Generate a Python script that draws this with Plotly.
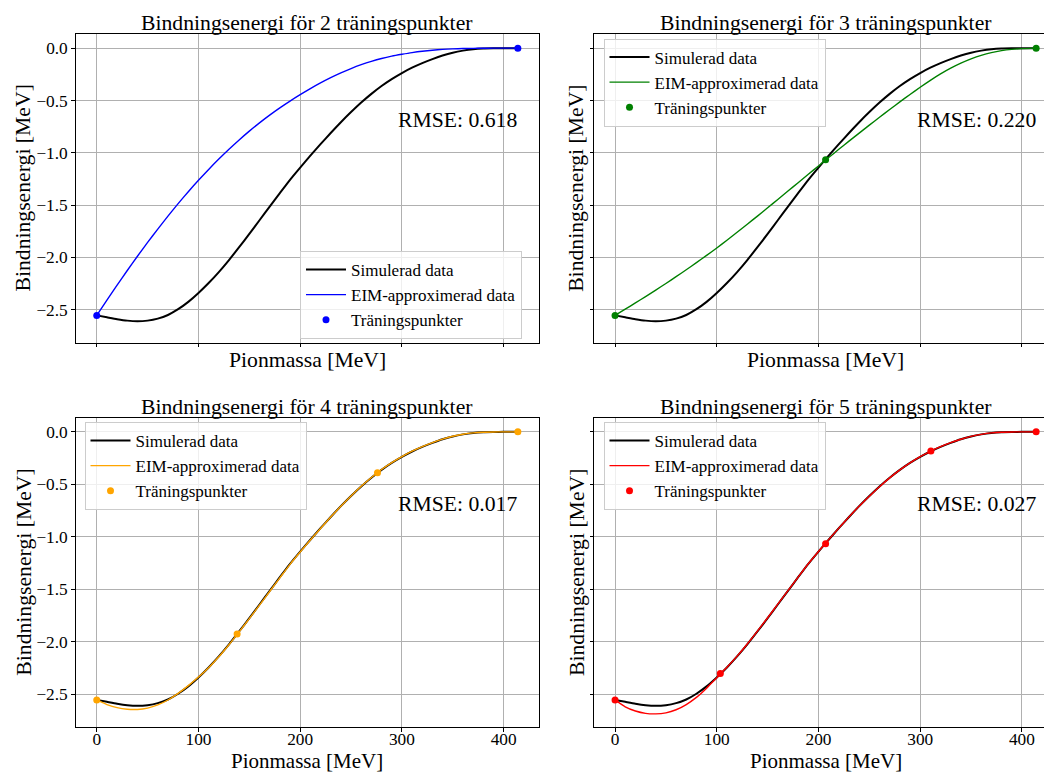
import plotly.graph_objects as go

# ---------------- data ----------------
x_grid = [0, 10, 20, 30, 40, 50, 60, 70, 80, 90, 100, 110, 120, 130, 140, 150,
          160, 170, 180, 190, 200, 210, 220, 230, 240, 250, 260, 270, 280, 290,
          300, 310, 320, 330, 340, 350, 360, 370, 380, 390, 400, 414]

sim_y = [-2.554, -2.572, -2.590, -2.604, -2.610, -2.604, -2.585, -2.550, -2.495, -2.425,
         -2.340, -2.245, -2.140, -2.025, -1.902, -1.775, -1.645, -1.515, -1.385, -1.258,
         -1.141, -1.028, -0.918, -0.811, -0.708, -0.611, -0.520, -0.437, -0.362, -0.296,
         -0.238, -0.187, -0.143, -0.105, -0.071, -0.044, -0.024, -0.010, -0.003, -0.001,
         0.0, 0.0]

eim2_y = [-2.554, -2.408, -2.265, -2.125, -1.989, -1.857, -1.729, -1.605, -1.486, -1.372,
          -1.263, -1.159, -1.060, -0.966, -0.877, -0.793, -0.714, -0.640, -0.571, -0.506,
          -0.445, -0.387, -0.333, -0.283, -0.237, -0.195, -0.158, -0.126, -0.099, -0.077,
          -0.059, -0.043, -0.030, -0.020, -0.012, -0.007, -0.004, -0.002, -0.001, 0.0,
          0.0, 0.0]

eim3_y = [-2.554, -2.495, -2.435, -2.374, -2.312, -2.249, -2.184, -2.118, -2.050, -1.981,
          -1.910, -1.836, -1.760, -1.683, -1.605, -1.526, -1.446, -1.366, -1.286, -1.206,
          -1.126, -1.046, -0.967, -0.889, -0.812, -0.736, -0.661, -0.587, -0.514, -0.443,
          -0.374, -0.308, -0.247, -0.192, -0.144, -0.103, -0.069, -0.043, -0.024, -0.012,
          -0.005, 0.0]

eim4_y = [-2.554, -2.598, -2.628, -2.643, -2.645, -2.632, -2.602, -2.555, -2.492, -2.418,
          -2.336, -2.247, -2.143, -2.028, -1.906, -1.780, -1.651, -1.521, -1.391, -1.262,
          -1.145, -1.031, -0.920, -0.812, -0.709, -0.611, -0.519, -0.435, -0.359, -0.293,
          -0.235, -0.184, -0.140, -0.102, -0.069, -0.042, -0.023, -0.010, -0.003, -0.001,
          0.0, 0.0]

eim5_y = [-2.554, -2.620, -2.660, -2.682, -2.687, -2.677, -2.648, -2.598, -2.530, -2.442,
          -2.342, -2.243, -2.137, -2.021, -1.898, -1.771, -1.642, -1.513, -1.384, -1.257,
          -1.140, -1.027, -0.917, -0.810, -0.708, -0.613, -0.522, -0.438, -0.362, -0.295,
          -0.236, -0.185, -0.141, -0.103, -0.070, -0.043, -0.024, -0.010, -0.003, -0.001,
          0.0, 0.0]

train_x = {2: [0, 414], 3: [0, 207, 414], 4: [0, 138, 276, 414],
           5: [0, 103.5, 207, 310.5, 414]}
train_y = {2: [-2.554, 0.0], 3: [-2.554, -1.067, 0.0], 4: [-2.554, -1.927, -0.390, 0.0],
           5: [-2.554, -2.302, -1.067, -0.183, 0.0]}

rmse = {2: "0.618", 3: "0.220", 4: "0.017", 5: "0.027"}
colors = {2: "#0000ff", 3: "#008000", 4: "#ffa500", 5: "#ff0000"}
eim_y = {2: eim2_y, 3: eim3_y, 4: eim4_y, 5: eim5_y}

x_ticks = [0, 100, 200, 300, 400]
y_ticks = [0.0, -0.5, -1.0, -1.5, -2.0, -2.5]

FONT = "Liberation Serif, Times New Roman, serif"
W, H = 1044, 774

# ---------------- layout geometry (pixels) ----------------
left_x = (75.7, 538.7)
right_x = (594.0, 1044.0)
top_y = (34.0, 342.7)
bot_y = (417.7, 727.3)
px_per_unit = 463.0 / 455.2
x_range_left = [-20.7, 434.5]
x_range_right = [-20.7, -20.7 + (right_x[1] - right_x[0]) / px_per_unit]
y_range = [-2.815, 0.135]

def xd(a):
    return [a[0] / W, a[1] / W]

def yd(a):
    return [1 - a[1] / H, 1 - a[0] / H]

panels = {2: (1, left_x, top_y, x_range_left, True, False, "legend", (300, 251)),
          3: (2, right_x, top_y, x_range_right, False, False, "legend2", (603.5, 38.5)),
          4: (3, left_x, bot_y, x_range_left, True, True, "legend3", (84.5, 422)),
          5: (4, right_x, bot_y, x_range_right, False, True, "legend4", (603.5, 422))}

fig = go.Figure()
layout = dict(width=W, height=H, margin=dict(l=0, r=0, t=0, b=0),
              paper_bgcolor="white", plot_bgcolor="white",
              font=dict(family=FONT, color="black"), showlegend=True)
annotations = []

for n, (idx, xpx, ypx, xr, is_left, is_bottom, leg, legpos) in panels.items():
    sfx = "" if idx == 1 else str(idx)
    xa, ya = "x" + sfx, "y" + sfx
    col = colors[n]
    fig.add_trace(go.Scatter(x=x_grid, y=sim_y, mode="lines", name="Simulerad data",
                             line=dict(color="black", width=2, shape="spline", smoothing=0.6),
                             xaxis=xa, yaxis=ya, legend=leg))
    fig.add_trace(go.Scatter(x=x_grid, y=eim_y[n], mode="lines", name="EIM-approximerad data",
                             line=dict(color=col, width=1.4, shape="spline", smoothing=0.6),
                             xaxis=xa, yaxis=ya, legend=leg))
    fig.add_trace(go.Scatter(x=train_x[n], y=train_y[n], mode="markers", name="Träningspunkter",
                             marker=dict(color=col, size=7),
                             xaxis=xa, yaxis=ya, legend=leg))

    layout["xaxis" + sfx] = dict(domain=xd(xpx), range=xr, anchor=ya,
                                 tickvals=x_ticks, showticklabels=is_bottom,
                                 ticks="outside", ticklen=3.5, tickwidth=1, tickcolor="black",
                                 ticklabelstandoff=-8,
                                 showline=True, linecolor="black", linewidth=1, mirror=True,
                                 showgrid=True, gridcolor="#b0b0b0", gridwidth=0.8,
                                 zeroline=False, tickfont=dict(family=FONT, size=17.3, color="black"))
    layout["yaxis" + sfx] = dict(domain=yd(ypx), range=y_range, anchor=xa,
                                 tickvals=y_ticks, tickformat=".1f", showticklabels=is_left,
                                 ticks="outside", ticklen=3.5, tickwidth=1, tickcolor="black",
                                 showline=True, linecolor="black", linewidth=1, mirror=is_left,
                                 showgrid=True, gridcolor="#b0b0b0", gridwidth=0.8,
                                 zeroline=False, tickfont=dict(family=FONT, size=17.3, color="black"))
    layout[leg] = dict(x=legpos[0] / W, y=1 - legpos[1] / H, xanchor="left", yanchor="top",
                       bgcolor="rgba(255,255,255,0.8)", bordercolor="#cccccc", borderwidth=1,
                       font=dict(family=FONT, size=17, color="black"),
                       itemwidth=40)

    cx = (xpx[0] + (xpx[0] + 463.0)) / 2
    cy = (ypx[0] + ypx[1]) / 2
    # title
    annotations.append(dict(text=f"Bindningsenergi för {n} träningspunkter", xref="paper", yref="paper",
                            x=cx / W, y=1 - (ypx[0] - 11) / H, xanchor="center", yanchor="middle",
                            showarrow=False, font=dict(family=FONT, size=21.7, color="black")))
    # RMSE
    annotations.append(dict(text=f"RMSE: {rmse[n]}", xref="paper", yref="paper",
                            x=(xpx[0] + 463.0 - 19.5) / W, y=1 - (ypx[0] + 86) / H,
                            xanchor="right", yanchor="middle", showarrow=False,
                            font=dict(family=FONT, size=21.7, color="black")))
    # y title
    annotations.append(dict(text="Bindningsenergi [MeV]", xref="paper", yref="paper",
                            x=(xpx[0] - (52.5 if is_left else 17.5)) / W, y=1 - cy / H,
                            xanchor="center", yanchor="middle", textangle=-90, showarrow=False,
                            font=dict(family=FONT, size=21.7, color="black")))
    # x title
    if is_bottom:
        annotations.append(dict(text="Pionmassa [MeV]", xref="paper", yref="paper",
                                x=cx / W, y=0.0, xanchor="center", yanchor="bottom",
                                borderpad=0,
                                showarrow=False, font=dict(family=FONT, size=21, color="black")))
    else:
        annotations.append(dict(text="Pionmassa [MeV]", xref="paper", yref="paper",
                                x=cx / W, y=1 - (ypx[1] + 17) / H,
                                xanchor="center", yanchor="middle", showarrow=False,
                                font=dict(family=FONT, size=21.7, color="black")))

layout["annotations"] = annotations
fig.update_layout(**layout)
fig.write_html("out.html")
